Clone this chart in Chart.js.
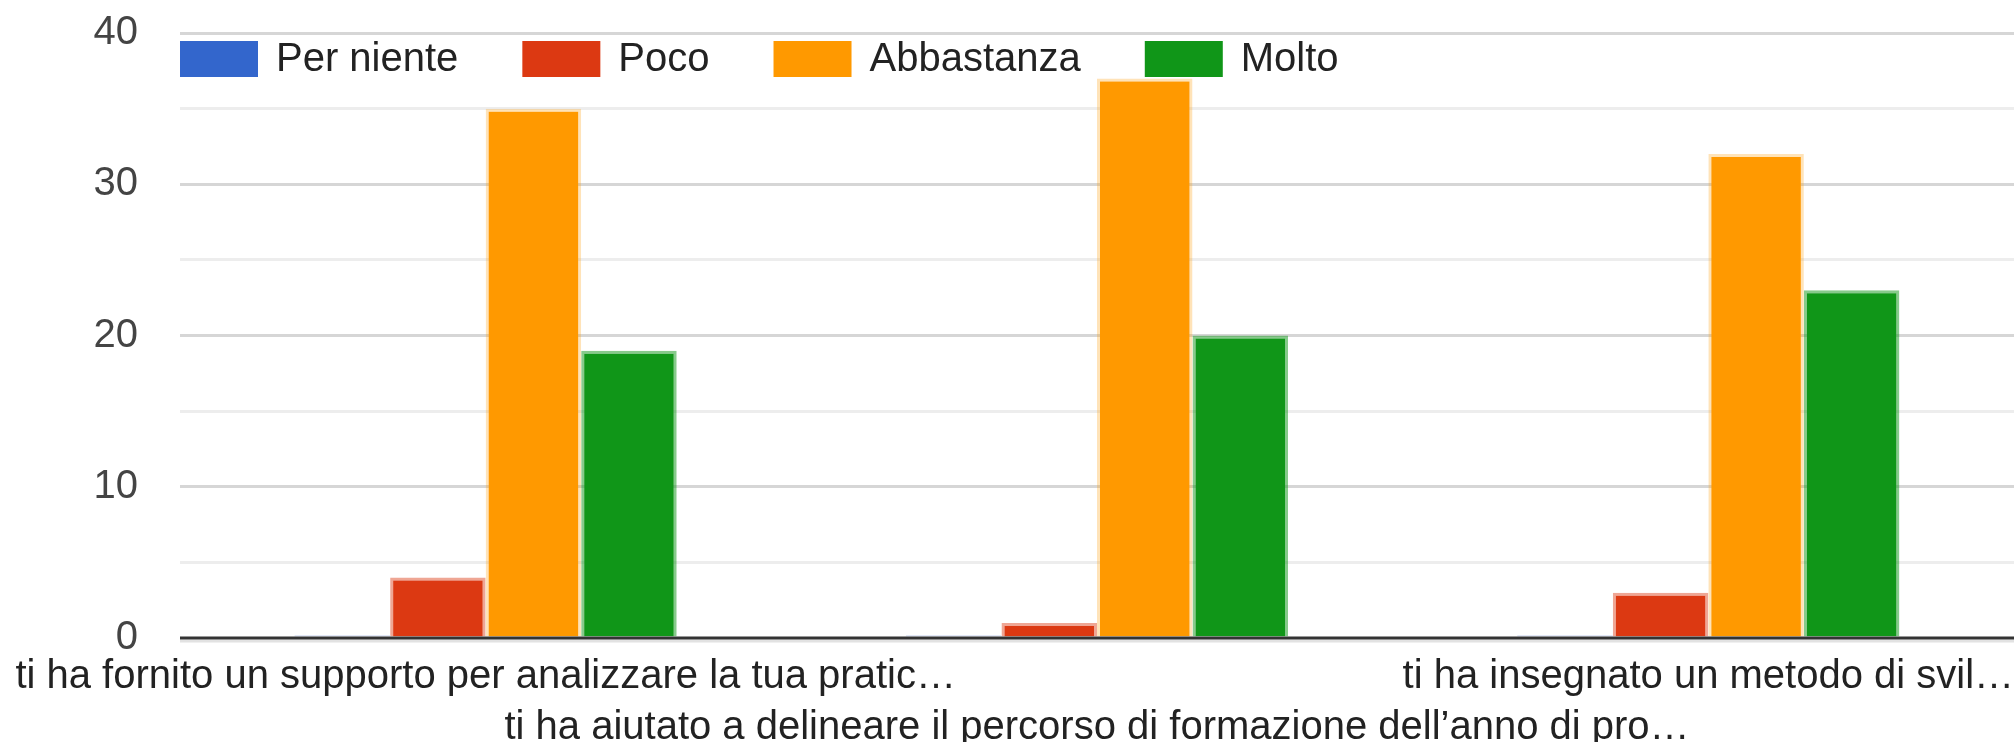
<!DOCTYPE html>
<html>
<head>
<meta charset="utf-8">
<script src="https://cdn.jsdelivr.net/npm/chart.js@4.4.1/dist/chart.umd.min.js"></script>
<style>
  html, body { margin: 0; padding: 0; background: #fff; }
  #wrap { width: 2014px; height: 742px; }
</style>
</head>
<body>
<div id="wrap"><canvas id="survey-chart"></canvas></div>
<script>
// ============================================
// DATA
// ============================================
const categories = [
  'ti ha fornito un supporto per analizzare la tua pratic\u2026',
  'ti ha aiutato a delineare il percorso di formazione dell\u2019anno di pro\u2026',
  'ti ha insegnato un metodo di svil\u2026'
];
const seriesNames = ['Per niente', 'Poco', 'Abbastanza', 'Molto'];
const perNiente = [0, 0, 0];
const poco = [4, 1, 3];
const abbastanza = [35, 37, 32];
const molto = [19, 20, 23];
const yTicks = [0, 10, 20, 30, 40];

const FONT = "'Liberation Sans', Arial, sans-serif";
const FONT_SIZE = 40;

// fill / edge colours per series
const fills = ['#3366cc', '#dc3912', '#ff9900', '#109618'];
const edges = [
  'rgba(51, 102, 204, 0.2)',
  'rgba(220, 57, 18, 0.45)',
  'rgba(255, 153, 0, 0.28)',
  'rgba(16, 150, 24, 0.5)'
];

// ============================================
// PLUGINS
// ============================================
// dark baseline at zero, drawn over the bars, with a pale line under it
const baselinePlugin = {
  id: 'baseline',
  afterDatasetsDraw(chart) {
    const { ctx, chartArea, scales } = chart;
    const y = scales.y.getPixelForValue(0);
    ctx.save();
    ctx.lineWidth = 3;
    ctx.strokeStyle = '#e2e2e2';
    ctx.beginPath();
    ctx.moveTo(chartArea.left, y + 3);
    ctx.lineTo(chartArea.right, y + 3);
    ctx.stroke();
    ctx.strokeStyle = '#333333';
    ctx.beginPath();
    ctx.moveTo(chartArea.left, y);
    ctx.lineTo(chartArea.right, y);
    ctx.stroke();
    ctx.restore();
  }
};

// legend sits inside the plot, just under the top gridline
const insideLegend = {
  id: 'insideLegend',
  afterDraw(chart) {
    const { ctx, chartArea } = chart;
    const boxW = 78, boxH = 36, gapText = 18, gapItem = 64;
    const cy = chartArea.top + 26;
    let x = chartArea.left;
    ctx.save();
    ctx.font = FONT_SIZE + 'px ' + FONT;
    ctx.textBaseline = 'middle';
    chart.data.datasets.forEach((ds, i) => {
      ctx.fillStyle = fills[i];
      ctx.fillRect(x, cy - boxH / 2, boxW, boxH);
      x += boxW + gapText;
      ctx.fillStyle = '#222222';
      ctx.fillText(ds.label, x, cy + 1);
      x += ctx.measureText(ds.label).width + gapItem;
    });
    ctx.restore();
  }
};

// ============================================
// CHART
// ============================================
const seriesValues = [perNiente, poco, abbastanza, molto];

const datasets = seriesNames.map((name, i) => ({
  label: name,
  data: seriesValues[i],
  backgroundColor: fills[i],
  borderColor: edges[i],
  borderWidth: 3,
  borderSkipped: 'start',
  minBarLength: i === 0 ? 3 : 0,
  categoryPercentage: 0.625,
  barPercentage: 1.0
}));
// zero-height bars show only as a faint strip
datasets[0].backgroundColor = '#e2e8f7';
datasets[0].borderWidth = 0;

new Chart(document.getElementById('survey-chart'), {
  type: 'bar',
  data: {
    // middle label is pushed to a second row
    labels: categories.map((c, i) => (i === 1 ? ['', c] : c)),
    datasets: datasets
  },
  options: {
    responsive: true,
    maintainAspectRatio: false,
    animation: false,
    layout: { padding: { top: 33, right: 0, left: 0, bottom: 0 } },
    plugins: {
      legend: { display: false },
      tooltip: { enabled: false }
    },
    scales: {
      x: {
        grid: { display: false },
        border: { display: false },
        ticks: {
          color: '#222222',
          font: { family: FONT, size: FONT_SIZE, lineHeight: 1.28 },
          maxRotation: 0,
          autoSkip: false,
          padding: 5
        },
        afterFit(scale) {
          // long labels may spill past the plot edges
          scale.height = 104;
          scale.paddingLeft = 0;
          scale.paddingRight = 0;
        }
      },
      y: {
        min: 0,
        max: 40,
        border: { display: false },
        grid: {
          drawTicks: false,
          lineWidth: 3,
          color: (c) => {
            const v = c.tick.value;
            if (v === 0) return 'rgba(0,0,0,0)';
            return v % 10 === 0 ? '#d6d6d6' : '#ededed';
          }
        },
        ticks: {
          stepSize: 5,
          color: '#444444',
          padding: 42,
          font: { family: FONT, size: 40 },
          callback: (v) => (yTicks.includes(v) ? String(v) : '')
        },
        afterFit(scale) {
          scale.width = 180;
          scale.paddingTop = 24;
          scale.paddingBottom = 24;
        }
      }
    }
  },
  plugins: [baselinePlugin, insideLegend]
});
</script>
</body>
</html>
